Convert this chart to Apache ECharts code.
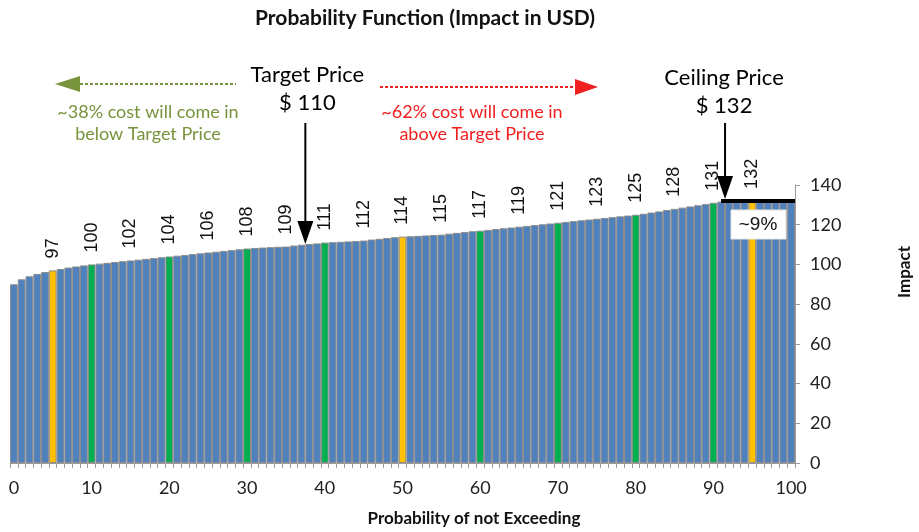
<!DOCTYPE html>
<html>
<head>
<meta charset="utf-8">
<script src="https://cdn.jsdelivr.net/npm/echarts@6/dist/echarts.min.js"></script>
<style>
  html, body { margin: 0; padding: 0; background: #fff; }
  #chart { width: 919px; height: 532px; }
</style>
</head>
<body>
<div id="chart"></div>
<script>
// Probability of not exceeding (percent), one bar per step
const probability = Array.from({ length: 101 }, (_, i) => String(i));

// Impact in USD at each probability step
const impact = [
  90, 92.5, 94, 95.2, 96.2, 97, 97.7, 98.4, 99, 99.5,
  100, 100.4, 100.8, 101.2, 101.6, 102, 102.4, 102.8, 103.2, 103.6,
  104, 104.4, 104.8, 105.2, 105.6, 106, 106.4, 106.8, 107.2, 107.6,
  108, 108.3, 108.5, 108.7, 108.9, 109, 109.5, 109.9, 110.3, 110.6,
  111, 111.2, 111.4, 111.6, 111.8, 112, 112.5, 112.9, 113.3, 113.7,
  114, 114.2, 114.4, 114.6, 114.8, 115, 115.5, 115.9, 116.3, 116.7,
  117, 117.4, 117.8, 118.2, 118.6, 119, 119.4, 119.8, 120.2, 120.6,
  121, 121.4, 121.8, 122.2, 122.6, 123, 123.4, 123.8, 124.2, 124.6,
  125, 125.5, 126.1, 126.7, 127.4, 128, 128.6, 129.2, 129.8, 130.4,
  131, 131.6, 132, 132, 132, 132, 132, 132, 132, 132, 132
];

const yellowSteps = [5, 50, 95];
const greenSteps = [10, 20, 30, 40, 60, 70, 80, 90];
const labelledSteps = [5, 10, 15, 20, 25, 30, 35, 40, 45, 50, 55, 60, 65, 70, 75, 80, 85, 90, 95];

const targetPrice = 110;
const targetStep = 37.5;   // ~38% of cost comes in below the target
const ceilingPrice = 132;
const ceilingStep = 91.5;  // ~9% of cost sits at the ceiling

const BLUE = '#4F81BD';
const YELLOW = '#FFC000';
const GREEN = '#00B050';
const CAL = 'Lato, "Open Sans", sans-serif';
const ARIAL = '"Liberation Sans", Arial, sans-serif';

const barData = impact.map((v, i) => {
  let color = BLUE;
  if (yellowSteps.includes(i)) color = YELLOW;
  if (greenSteps.includes(i)) color = GREEN;
  return {
    value: v,
    itemStyle: { color },
    label: { show: labelledSteps.includes(i) }
  };
});

const chart = echarts.init(document.getElementById('chart'), null, { renderer: 'canvas' });

chart.setOption({
  animation: false,
  grid: { left: 10, right: 124, top: 185, bottom: 69 },
  xAxis: {
    type: 'category',
    data: probability,
    boundaryGap: true,
    axisLine: { show: true, lineStyle: { color: '#9a9a9a', width: 1 } },
    axisTick: { show: true, interval: 0, length: 5, lineStyle: { color: '#9a9a9a' } },
    axisLabel: {
      interval: 9,
      margin: 16,
      fontFamily: CAL,
      fontSize: 18,
      color: '#222'
    },
    splitLine: { show: false }
  },
  yAxis: {
    type: 'value',
    position: 'right',
    min: 0,
    max: 140,
    interval: 20,
    axisLine: { show: true, lineStyle: { color: '#9a9a9a' } },
    axisTick: { show: true, length: 5, lineStyle: { color: '#9a9a9a' } },
    axisLabel: { margin: 15, fontFamily: CAL, fontSize: 18, color: '#222' },
    splitLine: { show: false }
  },
  series: [{
    type: 'bar',
    data: barData,
    barCategoryGap: '0%',
    itemStyle: { borderColor: '#8c8c8c', borderWidth: 1 },
    label: {
      show: false,
      position: 'top',
      rotate: 90,
      align: 'left',
      verticalAlign: 'middle',
      distance: 12,
      fontFamily: ARIAL,
      fontSize: 18,
      color: '#111'
    }
  }]
});

// Annotations placed from data coordinates
const px = (step, val) => {
  const lo = Math.floor(step), hi = Math.ceil(step);
  const a = chart.convertToPixel({ seriesIndex: 0 }, [lo, val]);
  const b = chart.convertToPixel({ seriesIndex: 0 }, [hi, val]);
  const t = step - lo;
  return [a[0] + (b[0] - a[0]) * t, a[1]];
};

const tgt = px(targetStep, impact[38]);
const ceil = px(ceilingStep, ceilingPrice);
const gridRight = 919 - 124;

function downArrow(x, yTop, yTip) {
  return [
    { type: 'line', z: 100, shape: { x1: x, y1: yTop, x2: x, y2: yTip - 20 }, style: { stroke: '#000', lineWidth: 2 } },
    { type: 'polygon', z: 100, shape: { points: [[x - 8, yTip - 23], [x + 8, yTip - 23], [x, yTip]] }, style: { fill: '#000' } }
  ];
}

const txt = (x, y, text, font, fill, extra) => Object.assign({
  type: 'text', z: 100, x, y,
  style: { text, font, fill, align: 'center', verticalAlign: 'middle' }
}, extra || {});

const graphics = [
  // chart title
  txt(425, 18, 'Probability Function (Impact in USD)', 'bold 21px ' + CAL, '#111'),
  // axis titles
  txt(474, 519, 'Probability of not Exceeding', 'bold 17px ' + CAL, '#111'),
  txt(905, 272, 'Impact', 'bold 17px ' + CAL, '#111', { rotation: Math.PI / 2 }),

  // target price
  txt(tgt[0] + 2, 75, 'Target Price', '22px ' + CAL, '#000'),
  txt(tgt[0] + 2, 103, '$ ' + targetPrice, '22px ' + CAL, '#000'),
  ...downArrow(tgt[0], 123, tgt[1]),

  // below target (green)
  { type: 'line', z: 100, shape: { x1: 80, y1: 84, x2: 236, y2: 84 }, style: { stroke: '#77933C', lineWidth: 2, lineDash: [3, 2] } },
  { type: 'polygon', z: 100, shape: { points: [[55, 84], [80, 76], [80, 92]] }, style: { fill: '#77933C' } },
  txt(148, 112, '~38% cost will come in', '18px ' + CAL, '#77933C'),
  txt(148, 134, 'below Target Price', '18px ' + CAL, '#77933C'),

  // above target (red)
  { type: 'line', z: 100, shape: { x1: 380, y1: 87, x2: 576, y2: 87 }, style: { stroke: '#F02020', lineWidth: 2, lineDash: [3, 2] } },
  { type: 'polygon', z: 100, shape: { points: [[598, 87], [575, 79], [575, 95]] }, style: { fill: '#F02020' } },
  txt(472, 112, '~62% cost will come in', '18px ' + CAL, '#F02020'),
  txt(472, 134, 'above Target Price', '18px ' + CAL, '#F02020'),

  // ceiling price
  txt(ceil[0] - 1, 78, 'Ceiling Price', '22px ' + CAL, '#000'),
  txt(ceil[0] - 1, 106, '$ ' + ceilingPrice, '22px ' + CAL, '#000'),
  ...downArrow(ceil[0], 123, ceil[1] - 2),
  { type: 'line', z: 100, shape: { x1: ceil[0] - 4, y1: ceil[1], x2: gridRight, y2: ceil[1] }, style: { stroke: '#000', lineWidth: 4 } },

  // share at ceiling
  { type: 'rect', z: 100, shape: { x: 731, y: 210, width: 55, height: 29 }, style: { fill: '#fff', stroke: '#e6e6e6', lineWidth: 1 } },
  txt(758, 225, '~9%', '19px ' + ARIAL, '#111')
];

chart.setOption({ graphic: graphics });
</script>
</body>
</html>
